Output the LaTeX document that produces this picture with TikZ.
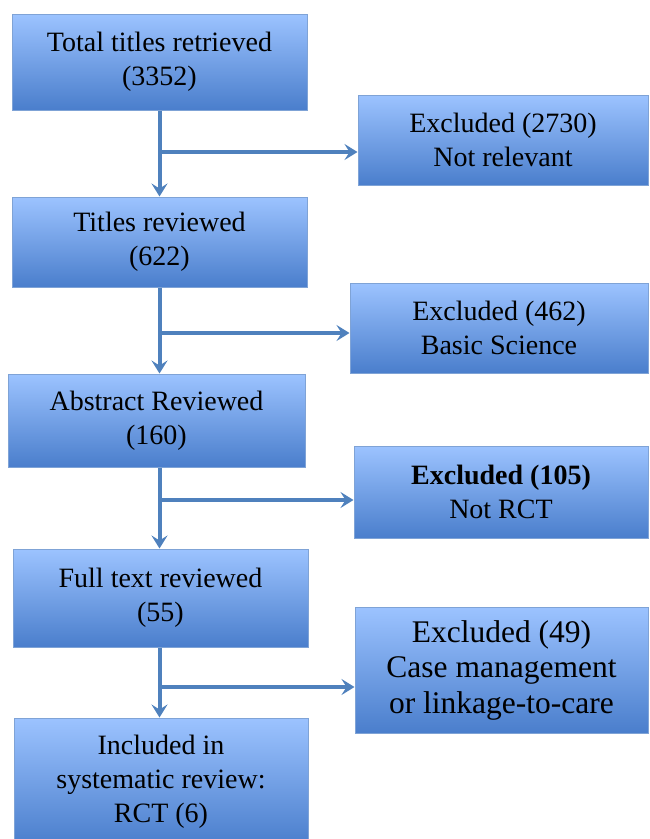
\documentclass[tikz,border=0pt]{standalone}
\usepackage{fontspec}
\setmainfont{Liberation Serif}
\usetikzlibrary{arrows.meta,positioning}
\definecolor{boxtop}{HTML}{9CC3FF}
\definecolor{boxbot}{HTML}{4A7ECC}
\definecolor{boxline}{HTML}{7FA3D6}
\definecolor{arrowblue}{HTML}{4F81BD}

\begin{document}
\begin{tikzpicture}[x=1pt,y=-1pt,
  stage/.style={draw=boxline, line width=1pt, top color=boxtop, bottom color=boxbot,
    align=center, inner sep=0pt, font=\fontsize{28}{34}\selectfont},
  link/.style={draw=arrowblue, line width=4pt,
    -{Stealth[length=13pt,width=16pt,inset=5pt]}}]
  \useasboundingbox (0,0) rectangle (649,839);
  % left column
  \node[stage, minimum width=295, minimum height=96] (total) at (159.5,62)
    {Total titles retrieved\\(3352)};
  \node[stage, minimum width=295, minimum height=90] (titles) at (159.5,242)
    {Titles reviewed\\(622)};
  \node[stage, minimum width=297, minimum height=93] (abstract) at (156.5,420.5)
    {Abstract Reviewed\\(160)};
  \node[stage, minimum width=295, minimum height=98] (fulltext) at (160.5,598)
    {Full text reviewed\\(55)};
  \node[stage, minimum width=294, minimum height=127] (included) at (161,781.5)
    {Included in\\systematic review:\\RCT (6)};
  % right column
  \node[stage, minimum width=290, minimum height=90] (excl1) at (503,140)
    {Excluded (2730)\\Not relevant};
  \node[stage, minimum width=298, minimum height=90] (excl2) at (499,328)
    {Excluded (462)\\Basic Science};
  \node[stage, minimum width=294, minimum height=92] (excl3) at (501,492)
    {\textbf{Excluded (105)}\\Not RCT};
  \node[stage, minimum width=293, minimum height=126, font=\fontsize{31.5}{35.5}\selectfont]
    (excl4) at (501.5,670) {Excluded (49)\\Case management\\or linkage-to-care};
  % branch points
  \coordinate (j1) at (159,152);
  \coordinate (j2) at (159,333);
  \coordinate (j3) at (159,500);
  \coordinate (j4) at (159,687);
  % arrows
  \draw[link] (total) -- (titles);
  \draw[link] (titles) -- (abstract.north -| titles.south);
  \draw[link] (abstract.south -| titles.south) -- (fulltext.north -| titles.south);
  \draw[link] (fulltext.south -| titles.south) -- (included.north -| titles.south);
  \draw[link] (j1) -- (j1 -| excl1.west);
  \draw[link] (j2) -- (j2 -| excl2.west);
  \draw[link] (j3) -- (j3 -| excl3.west);
  \draw[link] (j4) -- (j4 -| excl4.west);
\end{tikzpicture}
\end{document}
